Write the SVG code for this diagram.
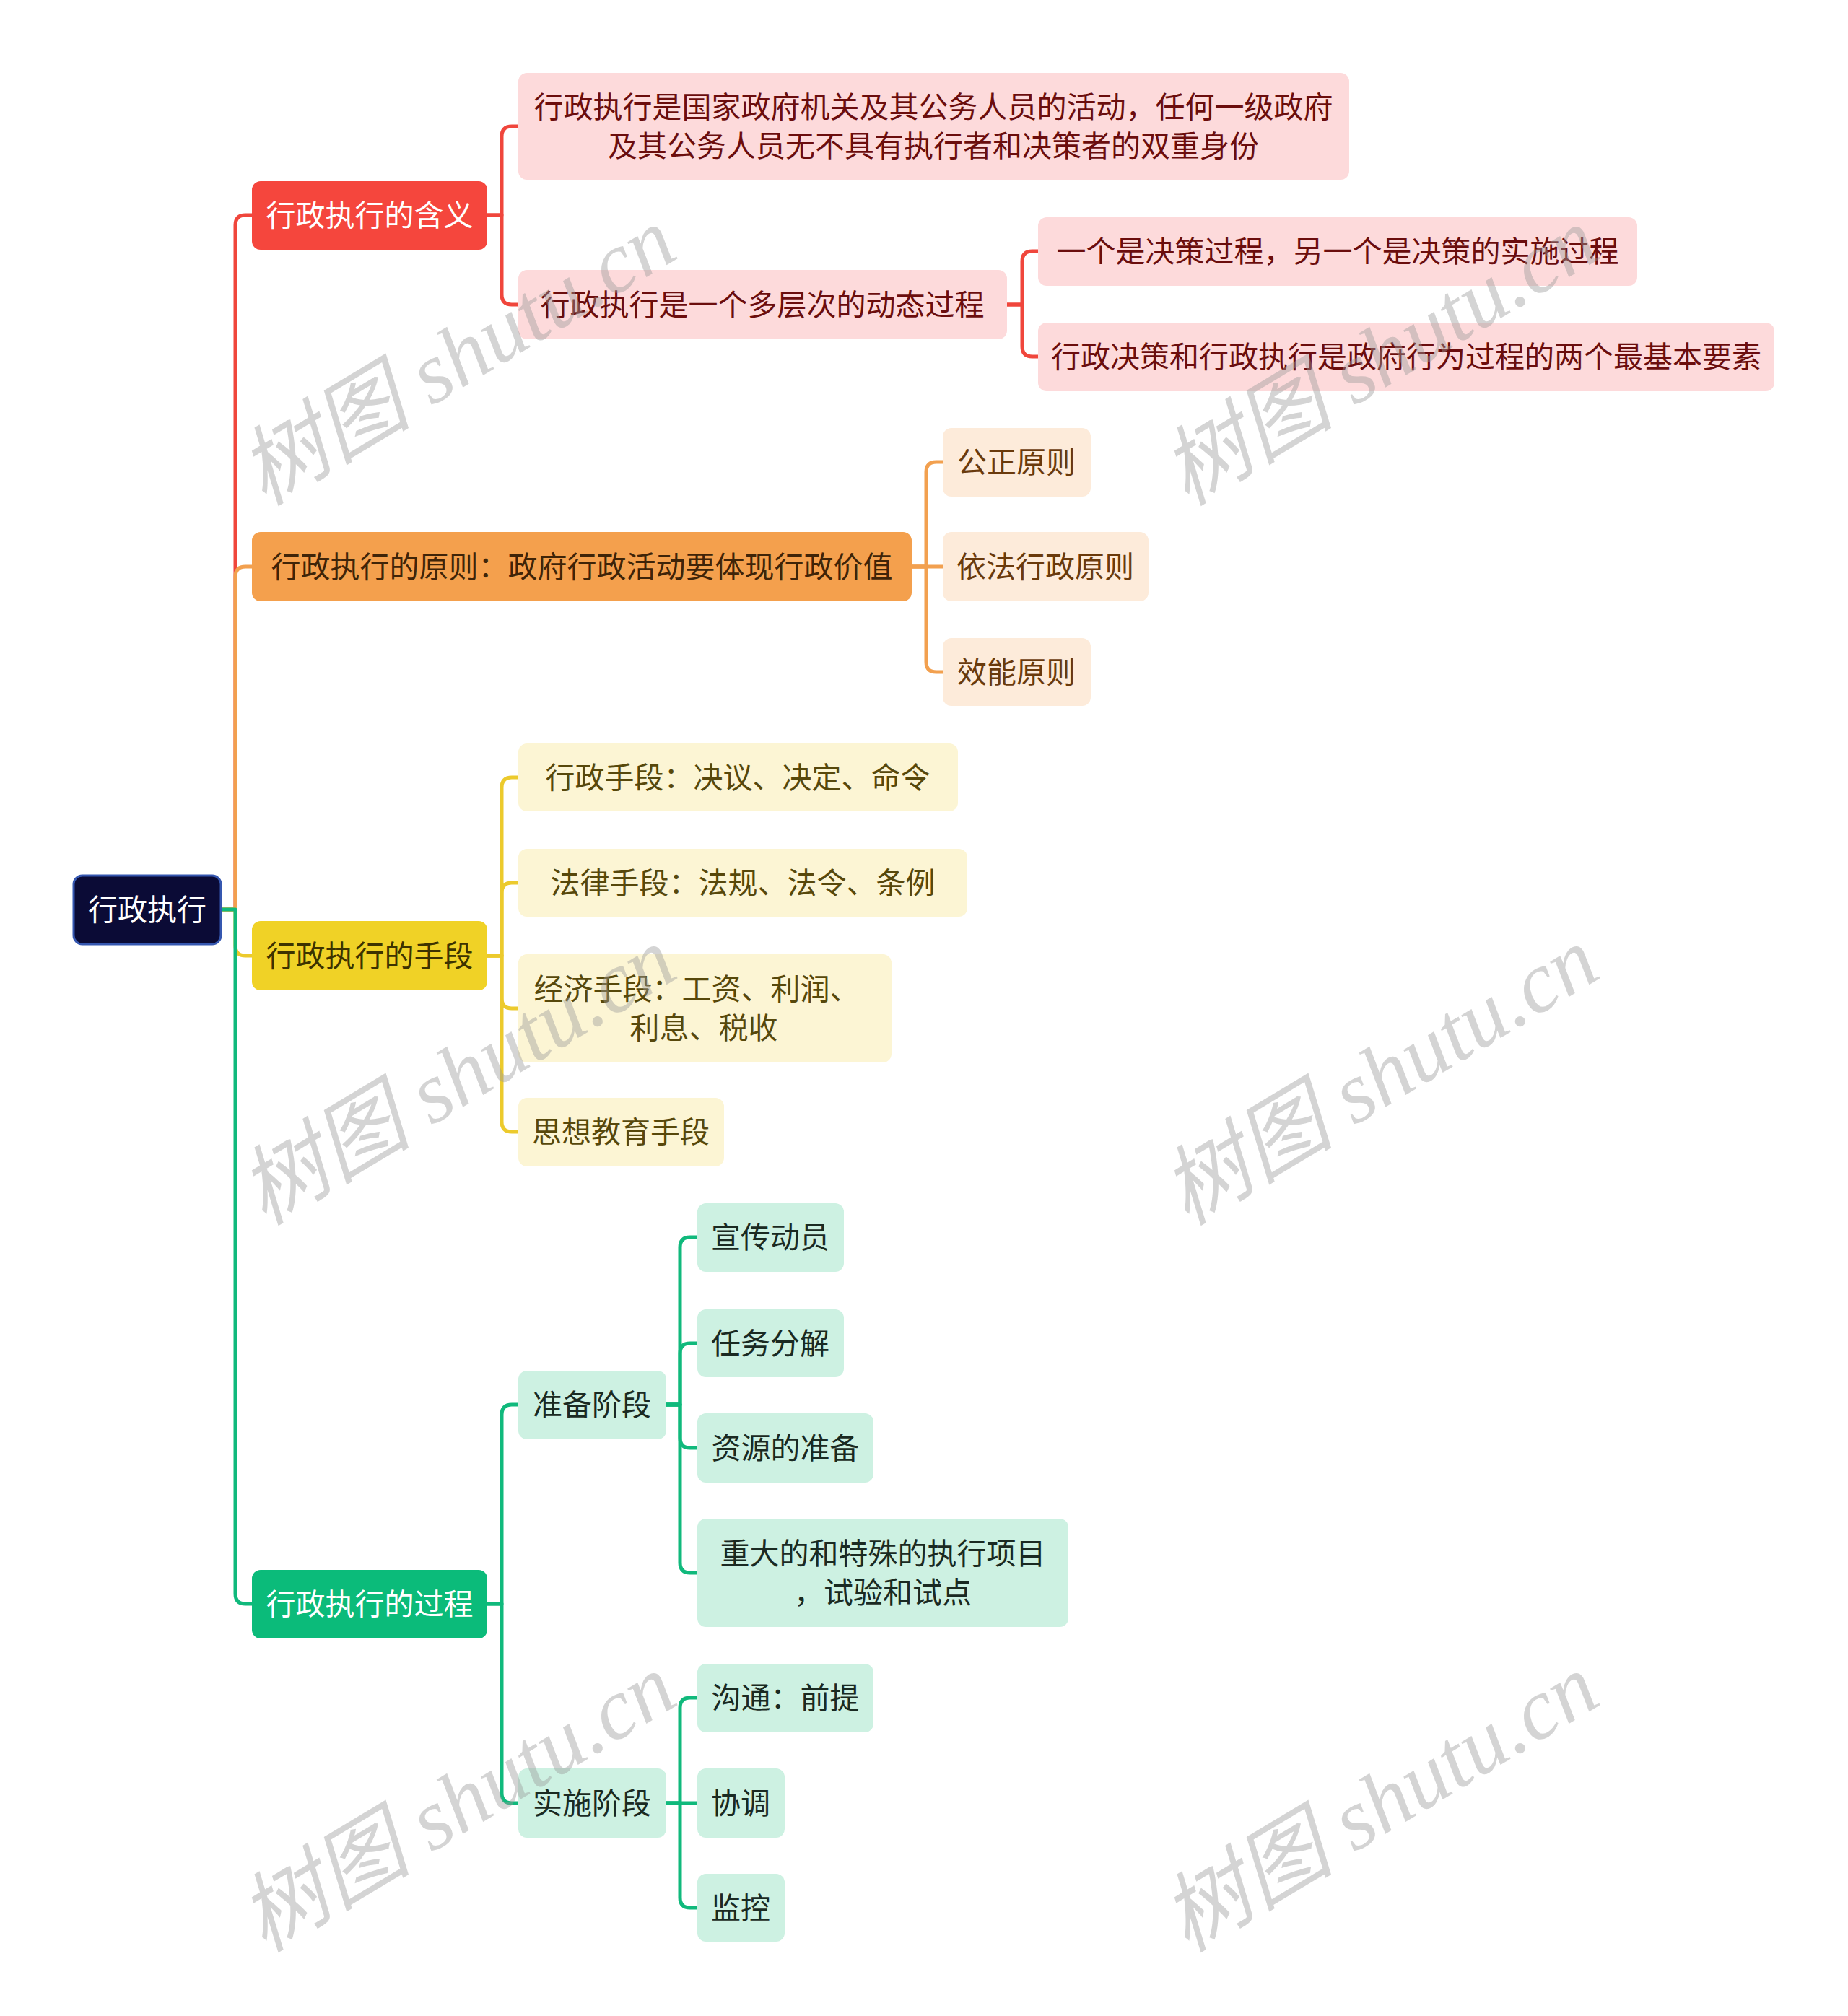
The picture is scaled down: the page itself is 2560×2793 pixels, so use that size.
<svg xmlns="http://www.w3.org/2000/svg" width="2560" height="2793" viewBox="0 0 2560 2793">
<style>
text{font-family:"Noto Sans CJK SC","Noto Sans",sans-serif;font-size:41px;text-anchor:middle}
.c{fill:none;stroke-width:5;stroke-linecap:round;stroke-linejoin:round}
.red{stroke:#f0463c}.org{stroke:#f2a04f}.yel{stroke:#ecca2c}.grn{stroke:#10b97c}
.wm{font-family:"Liberation Serif","Noto Sans CJK SC",serif;font-style:italic;font-size:120px;text-anchor:start;fill:#9a9a9a;opacity:.42}
</style>
<rect width="2560" height="2793" fill="#ffffff"/>
<g id="connectors">
<path class="c red" d="M306 1260 H326 V312 Q326 298 340 298 H349"/>
<path class="c org" d="M306 1260 H326 V799 Q326 785 340 785 H349"/>
<path class="c yel" d="M306 1260 H326 V1310 Q326 1324 340 1324 H349"/>
<path class="c grn" d="M306 1260 H326 V2208 Q326 2222 340 2222 H349"/>
<path class="c red" d="M675 298 H695 V189 Q695 175 709 175 H718"/>
<path class="c red" d="M675 298 H695 V408 Q695 422 709 422 H718"/>
<path class="c red" d="M1395 422 H1416 V362 Q1416 348 1430 348 H1438"/>
<path class="c red" d="M1395 422 H1416 V480 Q1416 494 1430 494 H1438"/>
<path class="c org" d="M1263 785 H1283 V654 Q1283 640 1297 640 H1306"/>
<path class="c org" d="M1263 785 H1306"/>
<path class="c org" d="M1263 785 H1283 V917 Q1283 931 1297 931 H1306"/>
<path class="c yel" d="M675 1324 H695 V1091 Q695 1077 709 1077 H718"/>
<path class="c yel" d="M675 1324 H695 V1237 Q695 1223 709 1223 H718"/>
<path class="c yel" d="M675 1324 H695 V1383 Q695 1397 709 1397 H718"/>
<path class="c yel" d="M675 1324 H695 V1554 Q695 1568 709 1568 H718"/>
<path class="c grn" d="M675 2222 H695 V1960 Q695 1946 709 1946 H718"/>
<path class="c grn" d="M675 2222 H695 V2484 Q695 2498 709 2498 H718"/>
<path class="c grn" d="M923 1946 H942 V1728 Q942 1714 956 1714 H966"/>
<path class="c grn" d="M923 1946 H942 V1875 Q942 1861 956 1861 H966"/>
<path class="c grn" d="M923 1946 H942 V1992 Q942 2006 956 2006 H966"/>
<path class="c grn" d="M923 1946 H942 V2165 Q942 2179 956 2179 H966"/>
<path class="c grn" d="M923 2498 H942 V2366 Q942 2352 956 2352 H966"/>
<path class="c grn" d="M923 2498 H966"/>
<path class="c grn" d="M923 2498 H942 V2629 Q942 2643 956 2643 H966"/>
</g>
<g id="root"><rect x="102" y="1213" width="204" height="95" rx="12" fill="#0b0b36" stroke="#3557b0" stroke-width="3"/><text x="204" y="1275" fill="#ffffff">行政执行</text></g>
<g id="n-hanyi"><rect x="349" y="251" width="326" height="95" rx="12" fill="#f5463d"/><text x="512" y="313" fill="#ffffff">行政执行的含义</text></g>
<g id="n-yuanze"><rect x="349" y="737" width="914" height="96" rx="12" fill="#f4a04d"/><text x="806" y="800" fill="#3f2408">行政执行的原则：政府行政活动要体现行政价值</text></g>
<g id="n-shouduan"><rect x="349" y="1276" width="326" height="96" rx="12" fill="#f0d226"/><text x="512" y="1339" fill="#3d3300">行政执行的手段</text></g>
<g id="n-guocheng"><rect x="349" y="2175" width="326" height="95" rx="12" fill="#0bbb7a"/><text x="512" y="2237" fill="#ffffff">行政执行的过程</text></g>
<g id="n-a1"><rect x="718" y="101" width="1151" height="148" rx="12" fill="#fddadb"/><text fill="#6b0d0d"><tspan x="1293" y="163">行政执行是国家政府机关及其公务人员的活动，任何一级政府</tspan><tspan x="1293" y="217">及其公务人员无不具有执行者和决策者的双重身份</tspan></text></g>
<g id="n-a2"><rect x="718" y="374" width="677" height="96" rx="12" fill="#fddadb"/><text x="1056" y="437" fill="#6b0d0d">行政执行是一个多层次的动态过程</text></g>
<g id="n-a2a"><rect x="1438" y="301" width="830" height="95" rx="12" fill="#fddadb"/><text x="1853" y="363" fill="#6b0d0d">一个是决策过程，另一个是决策的实施过程</text></g>
<g id="n-a2b"><rect x="1438" y="447" width="1020" height="95" rx="12" fill="#fddadb"/><text x="1948" y="509" fill="#6b0d0d">行政决策和行政执行是政府行为过程的两个最基本要素</text></g>
<g id="n-b1"><rect x="1306" y="593" width="205" height="95" rx="12" fill="#fdebda"/><text x="1408" y="655" fill="#6a3a0c">公正原则</text></g>
<g id="n-b2"><rect x="1306" y="737" width="285" height="96" rx="12" fill="#fdebda"/><text x="1448" y="800" fill="#6a3a0c">依法行政原则</text></g>
<g id="n-b3"><rect x="1306" y="884" width="205" height="94" rx="12" fill="#fdebda"/><text x="1408" y="946" fill="#6a3a0c">效能原则</text></g>
<g id="n-c1"><rect x="718" y="1030" width="609" height="94" rx="12" fill="#fcf5d4"/><text x="1022" y="1092" fill="#57480b">行政手段：决议、决定、命令</text></g>
<g id="n-c2"><rect x="718" y="1176" width="622" height="94" rx="12" fill="#fcf5d4"/><text x="1029" y="1238" fill="#57480b">法律手段：法规、法令、条例</text></g>
<g id="n-c3"><rect x="718" y="1322" width="517" height="150" rx="12" fill="#fcf5d4"/><text fill="#57480b"><tspan x="965" y="1385">经济手段：工资、利润、</tspan><tspan x="975" y="1439">利息、税收</tspan></text></g>
<g id="n-c4"><rect x="718" y="1521" width="285" height="95" rx="12" fill="#fcf5d4"/><text x="860" y="1583" fill="#57480b">思想教育手段</text></g>
<g id="n-d1"><rect x="718" y="1899" width="205" height="95" rx="12" fill="#cdf1e2"/><text x="820" y="1961" fill="#1a2a22">准备阶段</text></g>
<g id="n-d2"><rect x="718" y="2450" width="205" height="96" rx="12" fill="#cdf1e2"/><text x="820" y="2513" fill="#1a2a22">实施阶段</text></g>
<g id="n-d1a"><rect x="966" y="1667" width="203" height="95" rx="12" fill="#cdf1e2"/><text x="1067" y="1729" fill="#1a2a22">宣传动员</text></g>
<g id="n-d1b"><rect x="966" y="1814" width="203" height="94" rx="12" fill="#cdf1e2"/><text x="1067" y="1876" fill="#1a2a22">任务分解</text></g>
<g id="n-d1c"><rect x="966" y="1958" width="244" height="96" rx="12" fill="#cdf1e2"/><text x="1088" y="2021" fill="#1a2a22">资源的准备</text></g>
<g id="n-d1d"><rect x="966" y="2104" width="514" height="150" rx="12" fill="#cdf1e2"/><text fill="#1a2a22"><tspan x="1223" y="2167">重大的和特殊的执行项目</tspan><tspan x="1223" y="2221">，试验和试点</tspan></text></g>
<g id="n-d2a"><rect x="966" y="2305" width="244" height="95" rx="12" fill="#cdf1e2"/><text x="1088" y="2367" fill="#1a2a22">沟通：前提</text></g>
<g id="n-d2b"><rect x="966" y="2450" width="121" height="96" rx="12" fill="#cdf1e2"/><text x="1026" y="2513" fill="#1a2a22">协调</text></g>
<g id="n-d2c"><rect x="966" y="2596" width="121" height="94" rx="12" fill="#cdf1e2"/><text x="1026" y="2658" fill="#1a2a22">监控</text></g>
<g id="watermarks">
<text class="wm" transform="translate(366 702) rotate(-31)">树图 shutu.cn</text>
<text class="wm" transform="translate(1644 702) rotate(-31)">树图 shutu.cn</text>
<text class="wm" transform="translate(366 1699) rotate(-31)">树图 shutu.cn</text>
<text class="wm" transform="translate(1644 1699) rotate(-31)">树图 shutu.cn</text>
<text class="wm" transform="translate(366 2706) rotate(-31)">树图 shutu.cn</text>
<text class="wm" transform="translate(1644 2706) rotate(-31)">树图 shutu.cn</text>
</g>
</svg>
